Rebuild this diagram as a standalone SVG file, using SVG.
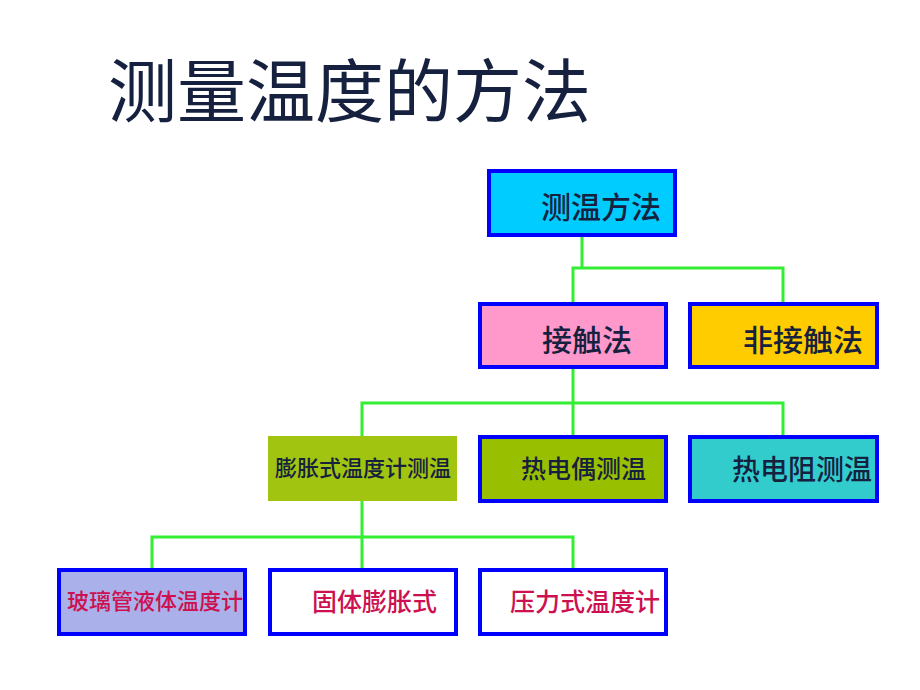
<svg xmlns="http://www.w3.org/2000/svg" width="920" height="690" viewBox="0 0 920 690">
<style>
.t{font-family:"Noto Sans CJK SC","Noto Sans",sans-serif;fill:#16213f;font-weight:500}
.r{fill:#cc1050}
.b{stroke:#0000ff;stroke-width:4}
.c{fill:none;stroke:#33ee33;stroke-width:3}
</style>
<rect width="920" height="690" fill="#ffffff"/>
<text class="t" x="108" y="117" font-size="69" style="font-weight:400">测量温度的方法</text>
<g id="connectors">
<path class="c" d="M582 236 V268 M573 303 V268 H783 V303"/>
<path class="c" d="M573 369 V403 M362 437 V403 H783 V437 M573 403 V437"/>
<path class="c" d="M362 501 V537 M152 569 V537 H573 V569 M362 537 V569"/>
</g>
<g id="n1"><rect class="b" x="489" y="171" width="186" height="64" fill="#00ccff"/><text class="t" x="541" y="218" font-size="30">测温方法</text></g>
<g id="n2"><rect class="b" x="480" y="304" width="186" height="63" fill="#ff99cc"/><text class="t" x="542" y="351" font-size="30">接触法</text></g>
<g id="n3"><rect class="b" x="690" y="304" width="187" height="63" fill="#ffcc00"/><text class="t" x="743" y="351" font-size="30">非接触法</text></g>
<g id="n4"><rect x="268" y="436" width="189" height="65" fill="#a0c410"/><text class="t" x="275" y="476" font-size="22">膨胀式温度计测温</text></g>
<g id="n5"><rect class="b" x="480" y="437" width="186" height="64" fill="#99c000"/><text class="t" x="521" y="478" font-size="25">热电偶测温</text></g>
<g id="n6"><rect class="b" x="690" y="437" width="187" height="64" fill="#33cccc"/><text class="t" x="732" y="480" font-size="28">热电阻测温</text></g>
<g id="n7"><rect class="b" x="59" y="570" width="186" height="64" fill="#aab0ea"/><text class="t r" x="67" y="609" font-size="22">玻璃管液体温度计</text></g>
<g id="n8"><rect class="b" x="270" y="570" width="186" height="64" fill="#ffffff"/><text class="t r" x="312" y="611" font-size="25">固体膨胀式</text></g>
<g id="n9"><rect class="b" x="480" y="570" width="186" height="64" fill="#ffffff"/><text class="t r" x="510" y="611" font-size="25">压力式温度计</text></g>
</svg>
